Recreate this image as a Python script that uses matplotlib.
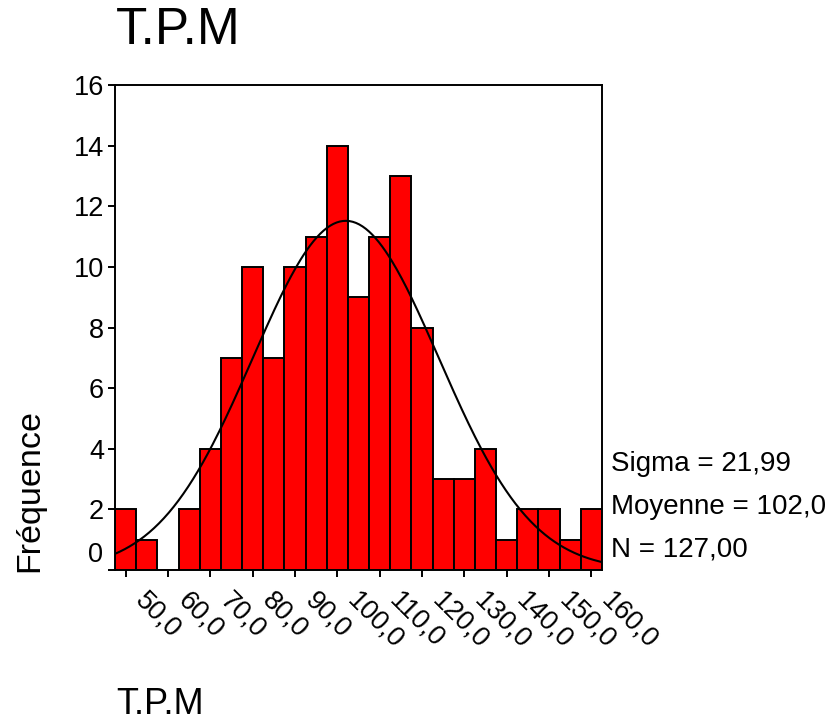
import numpy as np
import matplotlib
matplotlib.use('Agg')
import matplotlib.pyplot as plt
import matplotlib.transforms as mtransforms

plt.rcParams['font.family'] = ['Liberation Sans', 'DejaVu Sans']

# histogramme T.P.M (classes de largeur 5, centres 50..160)
centres = [50, 55, 60, 65, 70, 75, 80, 85, 90, 95, 100, 105,
           110, 115, 120, 125, 130, 135, 140, 145, 150, 155, 160]
effectifs = [2, 1, 0, 2, 4, 7, 10, 7, 10, 11, 14, 9,
             11, 13, 8, 3, 3, 4, 1, 2, 2, 1, 2]
largeur = 5
moyenne = 102.0
sigma = 21.99
n = 127

xticks = [50, 60, 70, 80, 90, 100, 110, 120, 130, 140, 150, 160]
xticklabels = ['50,0', '60,0', '70,0', '80,0', '90,0', '100,0', '110,0',
               '120,0', '130,0', '140,0', '150,0', '160,0']
yticks = [0, 2, 4, 6, 8, 10, 12, 14, 16]

fig = plt.figure(figsize=(8.34, 7.2), dpi=100)
ax = fig.add_axes([0.1379, 0.2083, 0.5839, 0.6736])

ax.bar(centres, effectifs, width=largeur, color='#ff0000',
       edgecolor='black', linewidth=1.4)

# courbe normale
xmin = centres[0] - largeur / 2
xmax = centres[-1] + largeur / 2
xs = np.linspace(xmin, xmax, 300)
ys = n * largeur / (sigma * np.sqrt(2 * np.pi)) * np.exp(-0.5 * ((xs - moyenne) / sigma) ** 2)
ax.plot(xs, ys, color='black', linewidth=1.5)

ax.set_xlim(xmin, xmax)
ax.set_ylim(0, 16)

for s in ax.spines.values():
    s.set_linewidth(1.4)

ax.set_xticks(xticks)
ax.set_xticklabels(xticklabels, rotation=-45, ha='left', va='center',
                   rotation_mode='anchor', fontsize=19.5)
ax.set_yticks(yticks)
ax.set_yticklabels([''] + [str(v) for v in yticks[1:]], fontsize=19.5)
ax.tick_params(direction='out', length=5, width=1.4, pad=3)
ax.tick_params(axis='x', pad=8)

# décalage des étiquettes de x vers la droite
decal = mtransforms.ScaledTranslation(0.14, -0.08, fig.dpi_scale_trans)
for lab in ax.get_xticklabels():
    lab.set_transform(lab.get_transform() + decal)

# le 0 est décalé vers le haut comme dans SPSS
ax.annotate('0', xy=(0, 0), xycoords=('axes fraction', 'data'),
            xytext=(-8.5, 11), textcoords='offset points',
            ha='right', va='center', fontsize=19.5)

fig.text(116 / 834, 1 - 31 / 720, 'T.P.M', fontsize=37, ha='left', va='center')
fig.text(116 / 834, 1 - 704 / 720, 'T.P.M', fontsize=26, ha='left', va='center')
fig.text(30 / 834, 1 - 490 / 720, 'Fréquence', fontsize=24.5, rotation=90,
         ha='center', va='center')

fig.text(611 / 834, 1 - 464 / 720, 'Sigma = 21,99', fontsize=20, ha='left', va='center')
fig.text(611 / 834, 1 - 507 / 720, 'Moyenne = 102,0', fontsize=20, ha='left', va='center')
fig.text(611 / 834, 1 - 550 / 720, 'N = 127,00', fontsize=20, ha='left', va='center')

fig.savefig('out.png', dpi=100, facecolor='white')
